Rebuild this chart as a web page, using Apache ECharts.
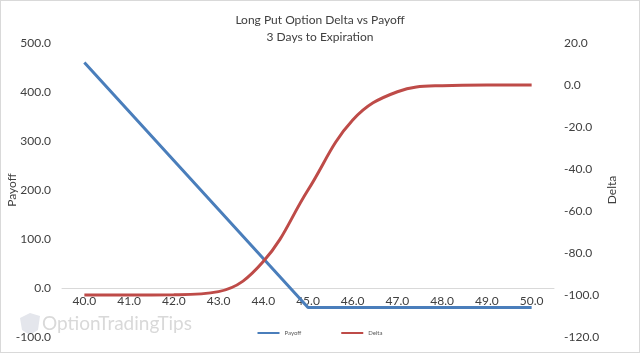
<!DOCTYPE html>
<html><head><meta charset="utf-8">
<script src="https://cdn.jsdelivr.net/npm/echarts@6/dist/echarts.min.js"></script>
<style>html,body{margin:0;padding:0;background:#fff}#c{width:640px;height:353px;position:absolute;left:0;top:0}#b{position:absolute;left:0;top:0;width:640px;height:353px;box-sizing:border-box;border:1px solid #d9d9d9;pointer-events:none}</style>
</head><body><div id="c"></div><div id="b"></div>
<script>
var categories = ['40.0','41.0','42.0','43.0','44.0','45.0','46.0','47.0','48.0','49.0','50.0'];
var payoff = [460, 360, 260, 160, 60, -40, -40, -40, -40, -40, -40];
var delta = [-100.0, -100.0, -99.9, -98.4, -84.1, -50.0, -16.7, -3.2, -0.3, 0.0, 0.0];
var leftTicks = {min: -100, max: 500, interval: 100};
var rightTicks = {min: -120, max: 20, interval: 20};
var font = 'Lato, "Open Sans", sans-serif';
var chart = echarts.init(document.getElementById('c'));
chart.setOption({
  animation: false,
  textStyle: {fontFamily: font},
  title: {
    text: 'Long Put Option Delta vs Payoff\n3 Days to Expiration',
    left: 'center', top: 7,
    textStyle: {fontSize: 12, fontWeight: 'normal', color: '#404040', lineHeight: 17, fontFamily: font}
  },
  grid: {left: 62, right: 86, top: 43, bottom: 16, containLabel: false, outerBoundsMode: 'none'},
  legend: {
    bottom: 12, left: 'center', itemGap: 40, itemWidth: 22, itemHeight: 2,
    icon: 'rect',
    textStyle: {fontSize: 6, color: '#595959'},
    data: ['Payoff', 'Delta']
  },
  graphic: [{
    type: 'polygon', silent: true, z: -1,
    shape: {points: [[20,318],[30,313],[40,316],[38,330],[30,335],[22,330]]},
    style: {fill: '#e4e6ec'}
  }, {
    type: 'text', left: 42, top: 314, silent: true, z: -1,
    style: {text: 'OptionTradingTips', fontSize: 19, fill: '#d9d9d9', fontFamily: font}
  }],
  xAxis: {
    type: 'category', data: categories, boundaryGap: true, position: 'bottom', offset: -49,
    axisLine: {onZero: false, lineStyle: {color: '#d9d9d9'}},
    axisTick: {show: false},
    axisLabel: {color: '#404040', fontSize: 12, margin: 7}
  },
  yAxis: [{
    type: 'value', min: leftTicks.min, max: leftTicks.max, interval: leftTicks.interval,
    name: 'Payoff', nameLocation: 'middle', nameGap: 44, nameRotate: 90, nameMoveOverlap: false,
    nameTextStyle: {color: '#404040', fontSize: 12},
    axisLine: {show: false}, axisTick: {show: false}, splitLine: {show: false},
    axisLabel: {color: '#404040', fontSize: 12, margin: 11, formatter: function(v){return v.toFixed(1);}}
  }, {
    type: 'value', min: rightTicks.min, max: rightTicks.max, interval: rightTicks.interval,
    name: 'Delta', nameLocation: 'middle', nameGap: 52, nameRotate: 90, nameMoveOverlap: false,
    nameTextStyle: {color: '#404040', fontSize: 12},
    axisLine: {show: false}, axisTick: {show: false}, splitLine: {show: false},
    axisLabel: {color: '#404040', fontSize: 12, margin: 10, formatter: function(v){return v.toFixed(1);}}
  }],
  series: [{
    name: 'Payoff', type: 'line', data: payoff, yAxisIndex: 0, showSymbol: false,
    lineStyle: {color: '#4a7ebb', width: 3}, itemStyle: {color: '#4a7ebb'}
  }, {
    name: 'Delta', type: 'line', data: delta, yAxisIndex: 1, showSymbol: false, smooth: 0.4,
    lineStyle: {color: '#be4b48', width: 3}, itemStyle: {color: '#be4b48'}
  }]
});
</script></body></html>
